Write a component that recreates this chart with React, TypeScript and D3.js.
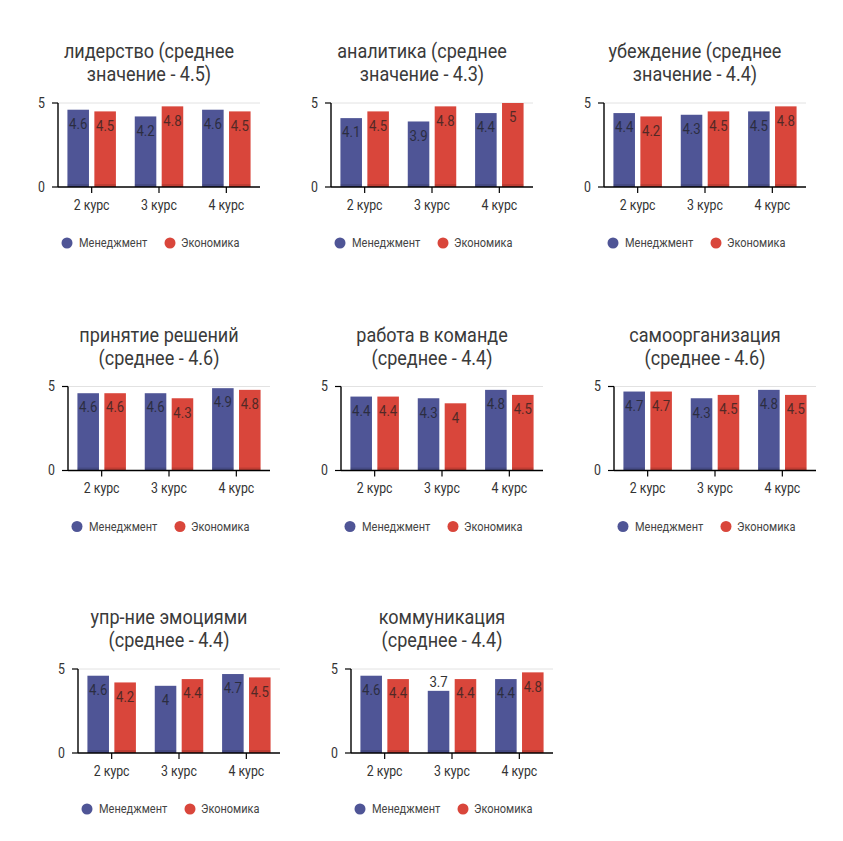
import { useEffect, useRef } from 'react';
import * as d3 from 'd3';

// course groups and series
const categories = ['2 курс', '3 курс', '4 курс'];
const seriesNames = ['Менеджмент', 'Экономика'];
const yTicks = [0, 5];

const titles = [
  ['лидерство (среднее', 'значение - 4.5)'],
  ['аналитика (среднее', 'значение - 4.3)'],
  ['убеждение (среднее', 'значение - 4.4)'],
  ['принятие решений', '(среднее - 4.6)'],
  ['работа в команде', '(среднее - 4.4)'],
  ['самоорганизация', '(среднее - 4.6)'],
  ['упр-ние эмоциями', '(среднее - 4.4)'],
  ['коммуникация', '(среднее - 4.4)'],
];

const management = [
  [4.6, 4.2, 4.6],
  [4.1, 3.9, 4.4],
  [4.4, 4.3, 4.5],
  [4.6, 4.6, 4.9],
  [4.4, 4.3, 4.8],
  [4.7, 4.3, 4.8],
  [4.6, 4.0, 4.7],
  [4.6, 3.7, 4.4],
];

const economics = [
  [4.5, 4.8, 4.5],
  [4.5, 4.8, 5],
  [4.2, 4.5, 4.8],
  [4.6, 4.3, 4.8],
  [4.4, 4.0, 4.5],
  [4.7, 4.5, 4.5],
  [4.2, 4.4, 4.5],
  [4.4, 4.4, 4.8],
];

// [chart, series, category] whose value label sits above the bar
const labelsAbove = [[7, 0, 1]];

const COLORS = ['#4f5596', '#d9463b'];
const FONT = 'Roboto, sans-serif';
const SQUEEZE = 0.88; // the original uses a condensed face

type G = d3.Selection<SVGGElement, unknown, null, undefined>;

function label(g: G, x: number, y: number, txt: string, size: number, anchor = 'middle') {
  return g.append('text')
    .attr('transform', `translate(${x},${y}) scale(${SQUEEZE},1)`)
    .attr('dy', '0.35em')
    .attr('text-anchor', anchor)
    .attr('font-family', FONT)
    .attr('font-size', size)
    .attr('fill', '#333')
    .text(txt);
}

export default function App() {
  const svgRef = useRef<SVGSVGElement>(null);

  useEffect(() => {
    if (!svgRef.current) return;
    const svg = d3.select(svgRef.current);
    svg.selectAll('*').remove();

    const plotW = 202;
    const plotH = 84;
    const rowTops = [103, 386.5, 669];

    const x0 = d3.scaleBand<string>()
      .domain(categories)
      .range([0, plotW])
      .paddingInner(0.28)
      .paddingOuter(0.14);

    const x1 = d3.scaleBand<string>()
      .domain(seriesNames)
      .range([0, x0.bandwidth()])
      .paddingInner(0.2);

    const y = d3.scaleLinear().domain([0, 5]).range([plotH, 0]);

    titles.forEach((title, i) => {
      const row = Math.floor(i / 3);
      const col = i % 3;
      const left = 58 + col * 273 + row * 10;
      const top = rowTops[row];

      const g = svg.append('g').attr('transform', `translate(${left},${top})`) as G;

      // title
      title.forEach((line, k) => {
        label(g, 91, -52 + k * 23, line, 20.5).attr('fill', '#3a3a3a');
      });

      // gridline at top
      g.append('line')
        .attr('x1', 0).attr('x2', plotW)
        .attr('y1', y(5)).attr('y2', y(5))
        .attr('stroke', '#e2e2e2');

      // bars
      const values = [management[i], economics[i]];
      categories.forEach((cat, c) => {
        seriesNames.forEach((s, si) => {
          const v = values[si][c];
          const bx = x0(cat)! + x1(s)!;
          const bw = x1.bandwidth();
          g.append('rect')
            .attr('x', bx)
            .attr('y', y(v))
            .attr('width', bw)
            .attr('height', plotH - y(v))
            .attr('fill', COLORS[si]);
          g.append('rect')
            .attr('x', bx)
            .attr('y', plotH - 3)
            .attr('width', bw)
            .attr('height', 3)
            .attr('fill', '#000')
            .attr('opacity', 0.12);

          const above = labelsAbove.some(d => d[0] === i && d[1] === si && d[2] === c);
          label(g, bx + bw / 2, above ? y(v) - 9 : y(v) + 14, String(v), 15)
            .attr('fill', above ? '#333' : '#1e1e1e')
            .attr('opacity', above ? 1 : 0.72);
        });
      });

      // x axis
      g.append('line')
        .attr('x1', 0).attr('x2', plotW)
        .attr('y1', plotH).attr('y2', plotH)
        .attr('stroke', '#000')
        .attr('stroke-width', 1.4);

      categories.forEach(cat => {
        const cx = x0(cat)! + x0.bandwidth() / 2;
        g.append('line')
          .attr('x1', cx).attr('x2', cx)
          .attr('y1', plotH).attr('y2', plotH + 6)
          .attr('stroke', '#000')
          .attr('stroke-width', 1.2);
        label(g, cx, plotH + 18, cat, 14);
      });

      // y axis
      g.append('line')
        .attr('x1', 0).attr('x2', 0)
        .attr('y1', 0).attr('y2', plotH)
        .attr('stroke', '#000')
        .attr('stroke-width', 1.4);

      yTicks.forEach(t => {
        g.append('line')
          .attr('x1', -6).attr('x2', 0)
          .attr('y1', y(t)).attr('y2', y(t))
          .attr('stroke', '#000')
          .attr('stroke-width', 1.2);
        label(g, -13, y(t), String(t), 14, 'end');
      });

      // legend
      const lg = g.append('g').attr('transform', `translate(0,${plotH + 56})`) as G;
      const legendX = [[9, 21], [112, 123]];
      seriesNames.forEach((s, si) => {
        lg.append('circle')
          .attr('cx', legendX[si][0])
          .attr('cy', 0)
          .attr('r', 5.5)
          .attr('fill', COLORS[si]);
        label(lg, legendX[si][1], 0, s, 12.5, 'start').attr('fill', '#444');
      });
    });
  }, []);

  return (
    <svg
      ref={svgRef}
      width={843}
      height={841}
      style={{ position: 'absolute', left: 0, top: 0, background: '#fff' }}
    />
  );
}
